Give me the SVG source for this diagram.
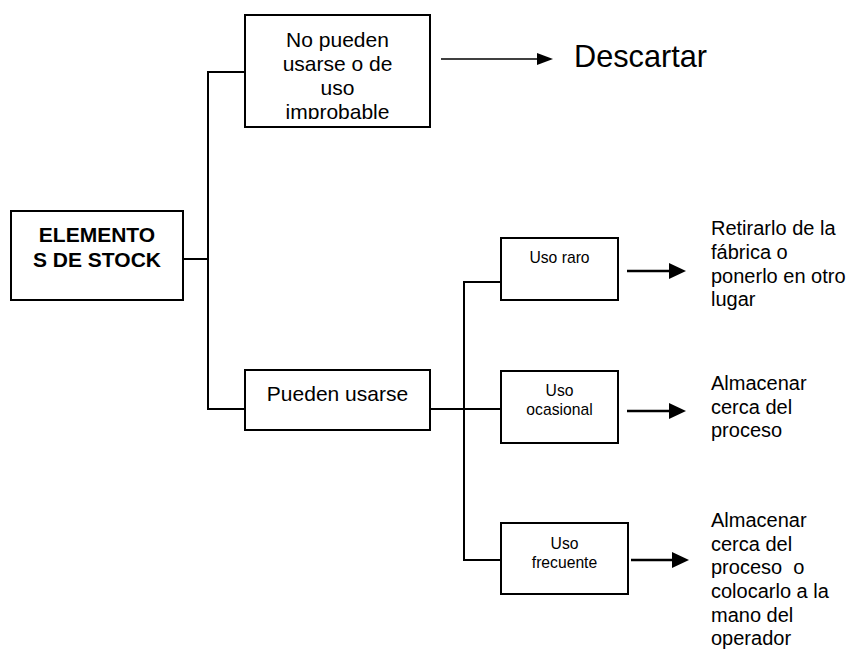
<svg xmlns="http://www.w3.org/2000/svg" width="856" height="653" viewBox="0 0 856 653">
<style>
.box{fill:#fff;stroke:#000;stroke-width:2}
.ln{fill:none;stroke:#000;stroke-width:2}
.ar{fill:none;stroke:#000;stroke-width:2.5}
.hd{fill:#000;stroke:none}
text{font-family:"Liberation Sans",Arial,sans-serif;fill:#000}
.t21{font-size:21px}
.t20{font-size:20px}
.t15{font-size:15.7px}
.c{text-anchor:middle}
</style>
<defs>
<clipPath id="clipTop"><rect x="245" y="15" width="185" height="104"/></clipPath>
</defs>
<rect width="856" height="653" fill="#fff"/>
<g id="connectors">
<polyline class="ln" points="245,72 208,72 208,409 245,409"/>
<line class="ln" x1="183" y1="259" x2="208" y2="259"/>
<line class="ln" x1="430" y1="409" x2="501" y2="409"/>
<polyline class="ln" points="501,282 464,282 464,560 501,560"/>
<line x1="441" y1="59" x2="540" y2="59" stroke="#000" stroke-width="1.6"/>
<polygon class="hd" points="537,53 553,59 537,65"/>
<line class="ar" x1="627" y1="271" x2="672" y2="271"/>
<polygon class="hd" points="669,263 686,271 669,279"/>
<line class="ar" x1="627" y1="411" x2="672" y2="411"/>
<polygon class="hd" points="669,403 686,411 669,419"/>
<line class="ar" x1="631" y1="560" x2="675" y2="560"/>
<polygon class="hd" points="672,552 689,560 672,568"/>
</g>
<g id="elementos">
<rect class="box" x="11" y="211" width="172" height="89"/>
<text class="c" x="97" y="242" font-size="21" font-weight="bold">ELEMENTO</text>
<text class="c" x="97" y="267" font-size="21" font-weight="bold">S DE STOCK</text>
</g>
<g id="no-pueden">
<rect class="box" x="245" y="15" width="185" height="112"/>
<g clip-path="url(#clipTop)">
<text class="t21 c" x="337.5" y="47">No pueden</text>
<text class="t21 c" x="337.5" y="70.5">usarse o de</text>
<text class="t21 c" x="337.5" y="94.5">uso</text>
<text class="t21 c" x="337.5" y="118.5">improbable</text>
</g>
</g>
<g id="descartar">
<text x="574" y="67" font-size="30.7">Descartar</text>
</g>
<g id="pueden">
<rect class="box" x="245" y="370" width="185" height="60"/>
<text class="t21 c" x="337.5" y="401">Pueden usarse</text>
</g>
<g id="uso-raro">
<rect class="box" x="501" y="238" width="117" height="62"/>
<text class="t15 c" x="559.5" y="263">Uso raro</text>
</g>
<g id="uso-ocasional">
<rect class="box" x="501" y="371" width="117" height="72"/>
<text class="t15 c" x="559.5" y="396">Uso</text>
<text class="t15 c" x="559.5" y="415">ocasional</text>
</g>
<g id="uso-frecuente">
<rect class="box" x="501" y="523" width="127" height="71"/>
<text class="t15 c" x="564.5" y="549">Uso</text>
<text class="t15 c" x="564.5" y="568">frecuente</text>
</g>
<g id="retirarlo">
<text class="t20" x="711" y="235">Retirarlo de la</text>
<text class="t20" x="711" y="259">fábrica o</text>
<text class="t20" x="711" y="282.5">ponerlo en otro</text>
<text class="t20" x="711" y="306">lugar</text>
</g>
<g id="almacenar1">
<text class="t20" x="711" y="390">Almacenar</text>
<text class="t20" x="711" y="413.5">cerca del</text>
<text class="t20" x="711" y="437">proceso</text>
</g>
<g id="almacenar2">
<text class="t20" x="711" y="527">Almacenar</text>
<text class="t20" x="711" y="550.5">cerca del</text>
<text class="t20" x="711" y="574" xml:space="preserve">proceso  o</text>
<text class="t20" x="711" y="598">colocarlo a la</text>
<text class="t20" x="711" y="621.5">mano del</text>
<text class="t20" x="711" y="645">operador</text>
</g>
</svg>
